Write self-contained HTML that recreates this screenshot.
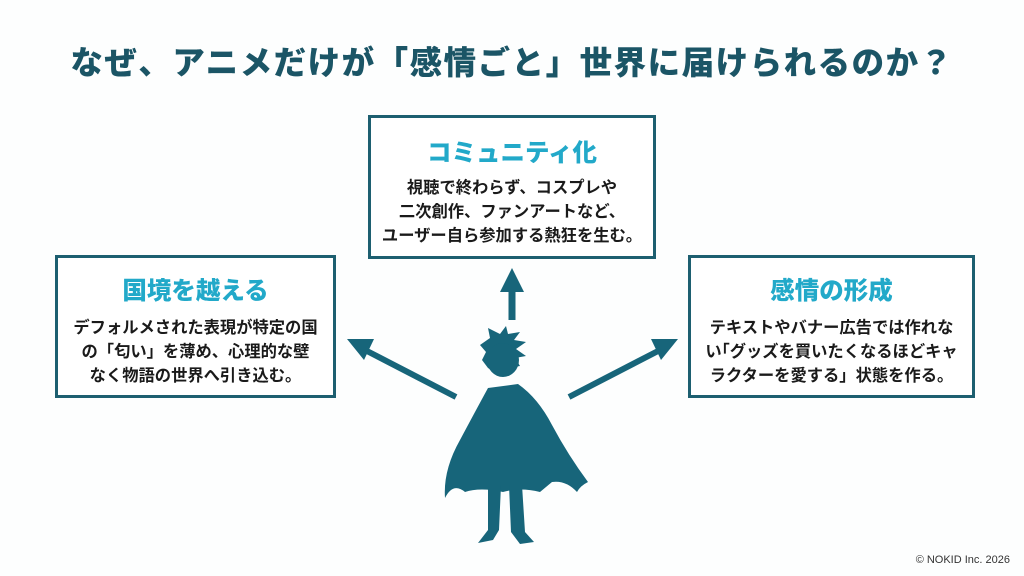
<!DOCTYPE html>
<html><head><meta charset="utf-8"><style>
body{margin:0;width:1024px;height:576px;background:#fdfefe;position:relative;overflow:hidden;font-family:"Liberation Sans","Noto Sans CJK JP",sans-serif;}
.t{position:absolute;left:0;width:1024px;top:37px;text-align:center;font-size:32.5px;font-weight:900;color:#1b5566;letter-spacing:1.5px}
.box{position:absolute;border:3px solid #1d5f70;background:#fff;box-sizing:border-box;text-align:center}
.box h2{margin:0;color:#22a9c9;font-size:24.5px;font-weight:900}
.box p{margin:0;color:#1a1a1a;font-size:16.3px;font-weight:700;line-height:24px;white-space:nowrap}
.c{position:absolute;right:14px;bottom:10px;font-size:11px;color:#333}
</style></head><body>
<div class="t">なぜ、アニメだけが「感情ごと」世界に届けられるのか？</div>
<div class="box" style="left:368px;top:115px;width:288px;height:144px"><h2 style="margin-top:16px">コミュニティ化</h2><p style="margin-top:7px">視聴で終わらず、コスプレや<br>二次創作、ファンアートなど、<br>ユーザー自ら参加する熱狂を生む。</p></div>
<div class="box" style="left:55px;top:255px;width:281px;height:143px"><h2 style="margin-top:14px">国境を越える</h2><p style="margin-top:9px">デフォルメされた表現が特定の国<br>の「匂い」を薄め、心理的な壁<br>なく物語の世界へ引き込む。</p></div>
<div class="box" style="left:688px;top:255px;width:287px;height:143px"><h2 style="margin-top:14px">感情の形成</h2><p style="margin-top:9px">テキストやバナー広告では作れな<br>い｢グッズを買いたくなるほどキャ<br>ラクターを愛する」状態を作る。</p></div>
<svg width="1024" height="576" style="position:absolute;left:0;top:0">
<g fill="#17657a" stroke="#17657a">
<line x1="512" y1="320" x2="512" y2="285" stroke-width="7"/>
<polygon points="512,268 500,292 524,292" stroke="none"/>
<line x1="456" y1="397" x2="365" y2="350" stroke-width="6"/>
<polygon points="347,339 374,339 364,360" stroke="none"/>
<line x1="569" y1="397" x2="660" y2="350" stroke-width="6"/>
<polygon points="678,339 651,339 661,360" stroke="none"/>
<g stroke="none">
<polygon points="480,345 490,338 488,328 500,334 506,326 508,334 520,332 514,340 526,342 516,349 526,356 515,358 520,366 508,368 500,376 488,368 482,360 486,352"/>
<ellipse cx="503" cy="360" rx="16" ry="17"/>
<path d="M488 388 L518 384 Q538 398 552 425 Q568 455 588 482 Q580 486 577 492 Q566 480 552 482 L540 492 Q520 487 503 492 Q480 487 465 492 Q453 482 445 498 Q443 470 460 440 Q476 410 488 388Z"/>
<path d="M488 485 L501 485 L499 530 L493 540 L478 543 L488 530Z"/>
<path d="M509 485 L522 485 L525 532 L534 542 L520 544 L511 532Z"/>
</g></g></svg>
<div class="c">© NOKID Inc. 2026</div>
</body></html>
